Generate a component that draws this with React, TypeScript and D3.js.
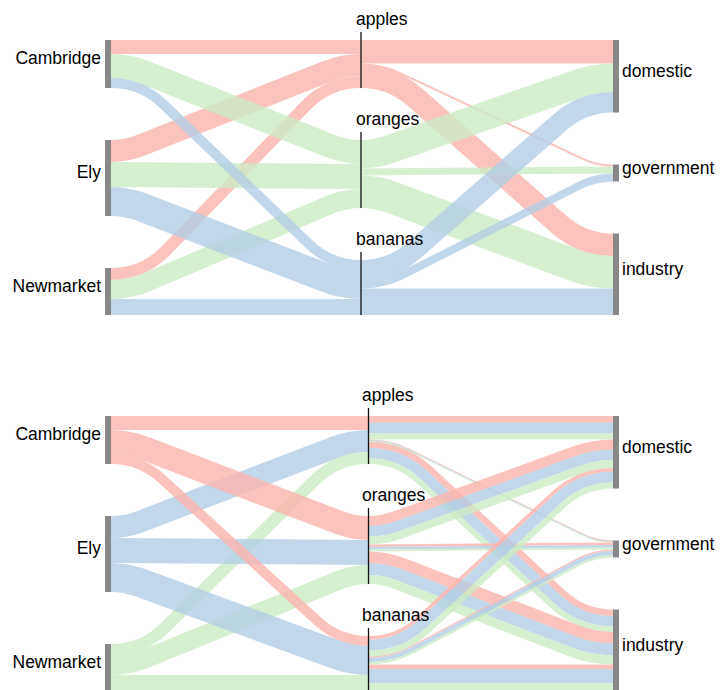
import React, { useEffect, useRef } from 'react';
import * as d3 from 'd3';

const farms = ['Cambridge', 'Ely', 'Newmarket'];
const fruits = ['apples', 'oranges', 'bananas'];
const uses = ['domestic', 'government', 'industry'];

// rows: Cambridge, Ely, Newmarket; columns: domestic, government, industry
const apples = [
  [6.85, 0.58, 6.56],
  [10.77, 0.92, 10.31],
  [5.88, 0.5, 5.63],
];
const oranges = [
  [10.06, 2.47, 11.47],
  [10.48, 2.57, 11.95],
  [7.96, 1.96, 9.08],
];
const bananas = [
  [3.73, 1.45, 4.82],
  [10.81, 4.22, 13.97],
  [5.96, 2.33, 7.71],
];
const fruitTables = [apples, oranges, bananas];

interface Link {
  source: string;
  target: string;
  type: string;
  value: number;
  w?: number;
  ys?: number;
  yt?: number;
  r0?: number;
  r1?: number;
}

interface Node {
  name: string;
  col: number;
  index: number;
  inV: number;
  outV: number;
  ins: Link[];
  outs: Link[];
  x0: number;
  x1: number;
  y0: number;
  y1: number;
}

// links coloured by fruit, fruit->use totals summed over farms
function fruitLinks(): Link[] {
  const links: Link[] = [];
  fruits.forEach((fruit, f) => {
    const t = fruitTables[f];
    farms.forEach((farm, i) => links.push({ source: farm, target: fruit, type: fruit, value: d3.sum(t[i]) }));
    uses.forEach((use, u) => links.push({ source: fruit, target: use, type: fruit, value: d3.sum(t, r => r[u]) }));
  });
  return links;
}

// links coloured by farm of origin all the way through
function farmLinks(): Link[] {
  const links: Link[] = [];
  fruits.forEach((fruit, f) => {
    const t = fruitTables[f];
    farms.forEach((farm, i) => {
      links.push({ source: farm, target: fruit, type: farm, value: d3.sum(t[i]) });
      uses.forEach((use, u) => links.push({ source: fruit, target: use, type: farm, value: t[i][u] }));
    });
  });
  return links;
}

const R_IN = 70;
const dir = (l: Link) => (Math.abs(l.yt! - l.ys!) < 0.5 ? 0 : Math.sign(l.yt! - l.ys!));

function drawDiagram(
  g: d3.Selection<SVGGElement, unknown, null, undefined>,
  links: Link[],
  typeOrder: string[],
  cfg: { top: number; height: number; midX: number; midLabelX: number }
) {
  const columns = [farms, fruits, uses];
  const colX = [[105, 111], [cfg.midX, cfg.midX], [613, 619]];
  const nodes = new Map<string, Node>();
  columns.forEach((names, c) =>
    names.forEach((name, i) =>
      nodes.set(name, { name, col: c, index: i, inV: 0, outV: 0, ins: [], outs: [], x0: colX[c][0], x1: colX[c][1], y0: 0, y1: 0 })
    )
  );
  links.forEach(l => {
    const s = nodes.get(l.source)!;
    const t = nodes.get(l.target)!;
    s.outV += l.value;
    t.inV += l.value;
    s.outs.push(l);
    t.ins.push(l);
  });
  const nodeValue = (n: string) => Math.max(nodes.get(n)!.inV, nodes.get(n)!.outV);
  const colTotals = columns.map(names => d3.sum(names, nodeValue));
  const gap = 52;
  const k = d3.scaleLinear().domain([0, d3.max(colTotals)!]).range([0, cfg.height - 2 * gap]);

  columns.forEach((names, c) => {
    const g2 = (cfg.height - k(colTotals[c])) / (names.length - 1);
    let y = cfg.top;
    names.forEach(name => {
      const n = nodes.get(name)!;
      n.y0 = y;
      n.y1 = y + k(nodeValue(name));
      y = n.y1 + g2;
    });
  });

  const ti = (l: Link) => typeOrder.indexOf(l.type);
  links.forEach(l => (l.w = k(l.value)));
  nodes.forEach(n => {
    n.outs.sort((a, b) => nodes.get(a.target)!.index - nodes.get(b.target)!.index || ti(a) - ti(b));
    let y = n.y0;
    n.outs.forEach(l => {
      l.ys = y + l.w! / 2;
      y += l.w!;
    });
    n.ins.sort((a, b) => nodes.get(a.source)!.index - nodes.get(b.source)!.index || ti(a) - ti(b));
    y = n.y0;
    n.ins.forEach(l => {
      l.yt = y + l.w! / 2;
      y += l.w!;
    });
  });

  // concentric radii for bundles that turn the same way
  const stack = (ls: Link[], key: 'r0' | 'r1') => {
    let cum = 0;
    ls.forEach(l => {
      l[key] = R_IN + cum + l.w! / 2;
      cum += l.w!;
    });
  };
  nodes.forEach(n => {
    stack(n.outs.filter(l => dir(l) > 0).reverse(), 'r0');
    stack(n.outs.filter(l => dir(l) < 0), 'r0');
    stack(n.ins.filter(l => dir(l) > 0), 'r1');
    stack(n.ins.filter(l => dir(l) < 0).reverse(), 'r1');
  });

  const linkPath = (l: Link) => {
    const x0 = nodes.get(l.source)!.x1;
    const x1 = nodes.get(l.target)!.x0;
    const y0 = l.ys!;
    const y1 = l.yt!;
    const p = d3.path();
    p.moveTo(x0, y0);
    const s = dir(l);
    if (!s) {
      p.lineTo(x1, y1);
      return p.toString();
    }
    const dx = x1 - x0;
    const D = Math.abs(y1 - y0);
    let r0 = l.r0!;
    let r1 = l.r1!;
    const Rmax = (dx * dx + D * D) / (2 * D);
    if (r0 + r1 > Rmax) {
      const f = Rmax / (r0 + r1);
      r0 *= f;
      r1 *= f;
    }
    const R = r0 + r1;
    const B = R - D;
    const theta = Math.asin(Math.min(1, R / Math.hypot(dx, B))) - Math.atan2(B, dx);
    if (s > 0) {
      p.arc(x0, y0 + r0, r0, -Math.PI / 2, -Math.PI / 2 + theta, false);
      p.arc(x1, y1 - r1, r1, Math.PI / 2 + theta, Math.PI / 2, true);
    } else {
      p.arc(x0, y0 - r0, r0, Math.PI / 2, Math.PI / 2 - theta, true);
      p.arc(x1, y1 + r1, r1, -Math.PI / 2 - theta, -Math.PI / 2, false);
    }
    return p.toString();
  };

  const color = d3.scaleOrdinal<string, string>()
    .domain(typeOrder[0] === 'Cambridge' ? typeOrder : ['apples', 'bananas', 'oranges'])
    .range(d3.schemePastel1);

  g.append('g')
    .selectAll('path')
    .data(links)
    .enter()
    .append('path')
    .attr('d', linkPath)
    .attr('fill', 'none')
    .attr('stroke', d => color(d.type))
    .attr('stroke-width', d => Math.max(0.9, d.w!))
    .attr('opacity', 0.8);

  const nodeList = Array.from(nodes.values());
  const font = '"Liberation Sans", Arial, Helvetica, sans-serif';

  // side nodes: grey bars
  g.append('g')
    .selectAll('rect')
    .data(nodeList.filter(n => n.col !== 1))
    .enter()
    .append('rect')
    .attr('x', d => d.x0)
    .attr('y', d => d.y0)
    .attr('width', d => d.x1 - d.x0)
    .attr('height', d => d.y1 - d.y0)
    .attr('fill', '#888');

  // middle nodes: thin line with label above
  const mid = nodeList.filter(n => n.col === 1);
  g.append('g')
    .selectAll('line')
    .data(mid)
    .enter()
    .append('line')
    .attr('x1', d => d.x0)
    .attr('x2', d => d.x0)
    .attr('y1', d => d.y0 - 8)
    .attr('y2', d => d.y1)
    .attr('stroke', '#111')
    .attr('stroke-width', 1.3);

  const labels = g.append('g')
    .attr('font-family', font)
    .attr('font-size', '17.5px')
    .attr('fill', '#000');

  labels.selectAll('text.side')
    .data(nodeList.filter(n => n.col !== 1))
    .enter()
    .append('text')
    .attr('class', 'side')
    .attr('x', d => (d.col === 0 ? d.x0 - 4 : d.x1 + 3))
    .attr('y', d => (d.y0 + d.y1) / 2 + 0.5)
    .attr('text-anchor', d => (d.col === 0 ? 'end' : 'start'))
    .text(d => d.name);

  labels.selectAll('text.mid')
    .data(mid)
    .enter()
    .append('text')
    .attr('class', 'mid')
    .attr('x', cfg.midLabelX)
    .attr('y', d => d.y0 - 15)
    .text(d => d.name);
}

const App: React.FC = () => {
  const svgRef = useRef<SVGSVGElement>(null);

  useEffect(() => {
    if (!svgRef.current) return;
    const svg = d3.select(svgRef.current);
    svg.selectAll('*').remove();

    drawDiagram(svg.append('g'), fruitLinks(), fruits, { top: 40, height: 275, midX: 361, midLabelX: 356 });
    drawDiagram(svg.append('g'), farmLinks(), farms, { top: 416, height: 275, midX: 368.5, midLabelX: 362 });
  }, []);

  return (
    <svg
      ref={svgRef}
      width={721}
      height={690}
      viewBox="0 0 721 690"
      style={{ position: 'absolute', left: 0, top: 0, overflow: 'hidden', background: '#fff' }}
    />
  );
};

export default App;
